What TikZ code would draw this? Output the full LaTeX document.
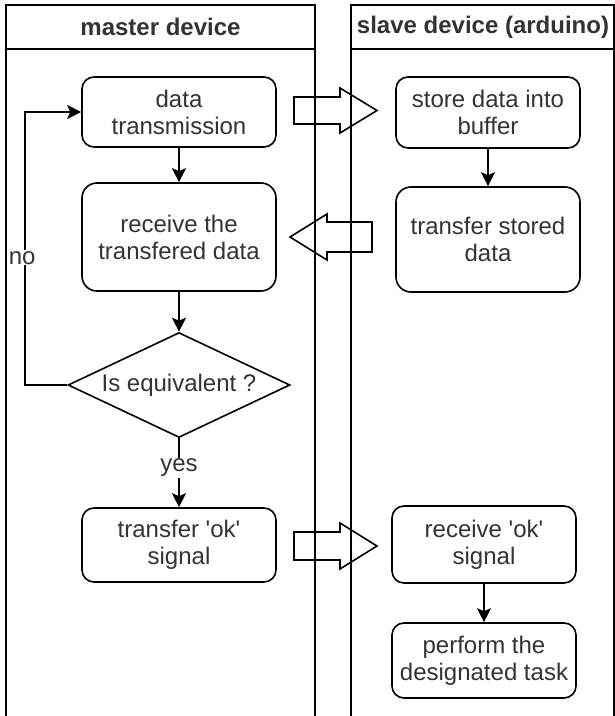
\documentclass[tikz,border=0pt]{standalone}
\usepackage{fontspec}
\setmainfont{Liberation Sans}
\usetikzlibrary{shapes.geometric,arrows.meta}
\definecolor{txt}{HTML}{333333}
\begin{document}
\begin{tikzpicture}[x=1pt,y=-1pt,
  box/.style={draw, line width=1.6pt, rounded corners=12pt, align=center, text=txt,
    font=\fontsize{24}{27}\selectfont, inner sep=0pt},
  hdr/.style={text=txt, font=\bfseries\fontsize{24}{27}\selectfont, inner sep=0pt},
  lane/.style={draw, line width=2pt},
  conn/.style={line width=1.6pt, -{Stealth[length=14pt,width=14pt,inset=3pt]}},
  lbl/.style={fill=white, text=txt, font=\fontsize{24}{27}\selectfont, inner sep=1pt},
  blockarrow/.style={draw, line width=1.6pt, line join=miter}
]
\useasboundingbox (0,0) rectangle (615,716);
\fill[white] (0,0) rectangle (615,716);
\clip (0,0) rectangle (615,716);

% lanes
\draw[lane] (6,730) -- (6,5) -- (315,5) -- (315,730);
\draw[lane] (6,49) -- (315,49);
\draw[lane] (351,730) -- (351,5) -- (614,5) -- (614,730);
\draw[lane] (351,49) -- (614,49);
\node[hdr] (mh) at (160.5,27) {master device};
\node[hdr] (sh) at (483,27) {slave device (arduino)};

% master nodes
\node[box, minimum width=194pt, minimum height=70pt] (dt) at (179,112) {data\\transmission};
\node[box, rounded corners=15pt, minimum width=194pt, minimum height=108pt] (recv) at (179,237) {receive the\\transfered data};
\node[diamond, draw, line width=1.6pt, aspect=2.1, minimum width=222pt, minimum height=105pt,
  inner sep=0pt, text=txt, font=\fontsize{24}{27}\selectfont] (eq) at (179,385) {Is equivalent ?};
\node[box, minimum width=194pt, minimum height=74pt] (ok) at (179,545) {transfer \textquotesingle ok\textquotesingle\\signal};

% slave nodes
\node[box, minimum width=184pt, minimum height=71pt] (store) at (488,112.5) {store data into\\buffer};
\node[box, rounded corners=15pt, minimum width=184pt, minimum height=105pt] (tsd) at (488,239.5) {transfer stored\\data};
\node[box, minimum width=184pt, minimum height=77pt] (rok) at (484,544.5) {receive \textquotesingle ok\textquotesingle\\signal};
\node[box, minimum width=184pt, minimum height=75pt] (perf) at (484,660.5) {perform the\\designated task};

% connectors
\draw[conn] (dt.south) -- (recv.north);
\draw[conn] (recv.south) -- (eq.north);
\draw[conn] (eq.south) -- node[lbl, pos=0.43] {yes} (ok.north);
\draw[conn] (eq.west) -- ++(-42,0) |- node[lbl, pos=0.233, xshift=-3pt] {no} (dt.west);
\draw[conn] (store.south) -- (tsd.north);
\draw[conn] (rok.south) -- (perf.north);

% block arrows between lanes
\draw[blockarrow] (294,97) -- (340,97) -- (340,88) -- (377,110.5) -- (340,133) -- (340,124) -- (294,124) -- cycle;
\draw[blockarrow] (372,222) -- (327,222) -- (327,214) -- (290,237) -- (327,260) -- (327,252) -- (372,252) -- cycle;
\draw[blockarrow] (294,532) -- (340,532) -- (340,523) -- (377,546) -- (340,569) -- (340,560) -- (294,560) -- cycle;
\end{tikzpicture}
\end{document}
